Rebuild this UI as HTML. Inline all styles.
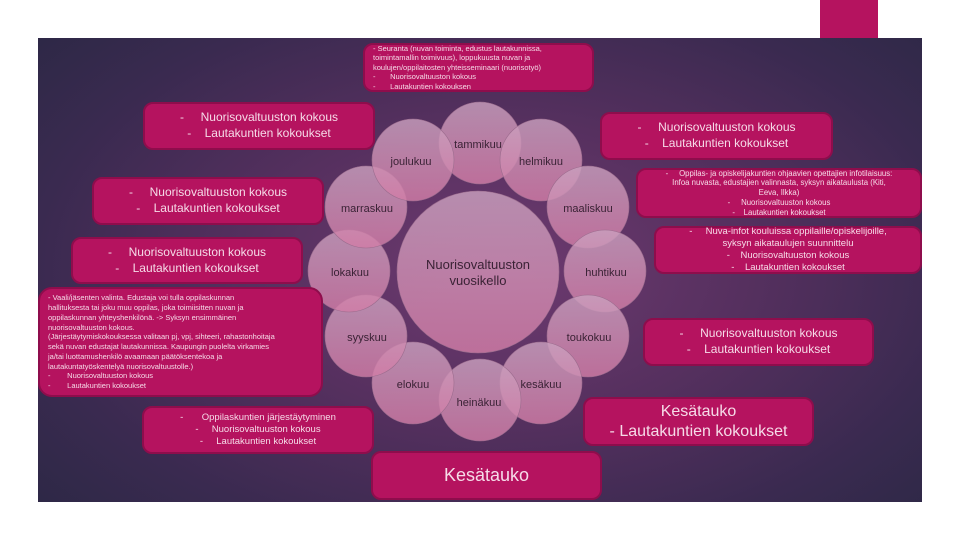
<!DOCTYPE html>
<html><head><meta charset="utf-8"><style>
*{margin:0;padding:0;box-sizing:border-box}
body{width:960px;height:540px;background:#fff;position:relative;overflow:hidden;font-family:"Liberation Sans",sans-serif}
#slide{position:absolute;left:38px;top:38px;width:884px;height:464px;background:radial-gradient(ellipse 70% 80% at 52% 50%,#6e3a70 0%,#56305f 40%,#3a2a50 75%,#2c2845 100%)}
#bar{position:absolute;left:820px;top:0;width:58px;height:38px;background:#b5135f}
.b{position:absolute;background:#b5135f;border:2px solid #8e0d4c;border-radius:10px;color:#f6dbe8;text-align:center;display:flex;flex-direction:column;justify-content:center;line-height:1.3}
.b p{white-space:nowrap}
.l{text-align:left}
svg{position:absolute;left:0;top:0}
</style></head><body>
<div id="slide"></div>
<div id="bar"></div>
<svg width="960" height="540">
<defs><linearGradient id="g" x1="0" y1="0" x2="0" y2="1"><stop offset="0" stop-color="#c9a0be"/><stop offset="1" stop-color="#d17ca6"/></linearGradient></defs>
<g fill="url(#g)" fill-opacity="0.82" stroke="#9c6c8e" stroke-width="0.6">
<circle cx="478" cy="272" r="81"/>
<circle cx="480" cy="143" r="41"/>
<circle cx="541" cy="160" r="41"/>
<circle cx="588" cy="207" r="41"/>
<circle cx="605" cy="271" r="41"/>
<circle cx="588" cy="336" r="41"/>
<circle cx="541" cy="383" r="41"/>
<circle cx="480" cy="400" r="41"/>
<circle cx="413" cy="383" r="41"/>
<circle cx="366" cy="336" r="41"/>
<circle cx="349" cy="271" r="41"/>
<circle cx="366" cy="207" r="41"/>
<circle cx="413" cy="160" r="41"/>
</g>
<g font-family="Liberation Sans,sans-serif" font-size="11" fill="#3a2235" text-anchor="middle">
<text x="478" y="269" font-size="13">Nuorisovaltuuston</text>
<text x="478" y="285" font-size="13">vuosikello</text>
<text x="478" y="148">tammikuu</text>
<text x="541" y="165">helmikuu</text>
<text x="588" y="212">maaliskuu</text>
<text x="606" y="276">huhtikuu</text>
<text x="589" y="341">toukokuu</text>
<text x="541" y="388">kesäkuu</text>
<text x="479" y="406">heinäkuu</text>
<text x="413" y="388">elokuu</text>
<text x="367" y="341">syyskuu</text>
<text x="350" y="276">lokakuu</text>
<text x="367" y="212">marraskuu</text>
<text x="411" y="165">joulukuu</text>
</g>
</svg>
<div class="b l" style="left:363px;top:43px;width:231px;height:49px;font-size:7.5px;padding:0 8px;line-height:1.25">
<p>- Seuranta (nuvan toiminta, edustus lautakunnissa,</p><p>toimintamallin toimivuus), loppukuusta nuvan ja</p><p>koulujen/oppilaitosten yhteisseminaari (nuorisotyö)</p><p>-&nbsp;&nbsp;&nbsp;&nbsp;&nbsp;&nbsp;&nbsp;Nuorisovaltuuston kokous</p><p>-&nbsp;&nbsp;&nbsp;&nbsp;&nbsp;&nbsp;&nbsp;Lautakuntien kokouksen</p></div>
<div class="b" style="left:143px;top:102px;width:232px;height:48px;font-size:12px"><p>-&nbsp;&nbsp;&nbsp;&nbsp;&nbsp;Nuorisovaltuuston kokous</p><p>-&nbsp;&nbsp;&nbsp;&nbsp;Lautakuntien kokoukset</p></div>
<div class="b" style="left:92px;top:177px;width:232px;height:48px;font-size:12px"><p>-&nbsp;&nbsp;&nbsp;&nbsp;&nbsp;Nuorisovaltuuston kokous</p><p>-&nbsp;&nbsp;&nbsp;&nbsp;Lautakuntien kokoukset</p></div>
<div class="b" style="left:71px;top:237px;width:232px;height:47px;font-size:12px"><p>-&nbsp;&nbsp;&nbsp;&nbsp;&nbsp;Nuorisovaltuuston kokous</p><p>-&nbsp;&nbsp;&nbsp;&nbsp;Lautakuntien kokoukset</p></div>
<div class="b l" style="left:38px;top:287px;width:285px;height:110px;font-size:7.5px;padding:0 8px;border-radius:14px;line-height:1.3">
<p>- Vaali/jäsenten valinta. Edustaja voi tulla oppilaskunnan</p><p>hallituksesta tai joku muu oppilas, joka toimiisitten nuvan ja</p><p>oppilaskunnan yhteyshenkilönä. -&gt; Syksyn ensimmäinen</p><p>nuorisovaltuuston kokous.</p><p>(Järjestäytymiskokouksessa valitaan pj, vpj, sihteeri, rahastonhoitaja</p><p>sekä nuvan edustajat lautakunnissa. Kaupungin puolelta virkamies</p><p>ja/tai luottamushenkilö avaamaan päätöksentekoa ja</p><p>lautakuntatyöskentelyä nuorisovaltuustolle.)</p><p>-&nbsp;&nbsp;&nbsp;&nbsp;&nbsp;&nbsp;&nbsp;&nbsp;Nuorisovaltuuston kokous</p><p>-&nbsp;&nbsp;&nbsp;&nbsp;&nbsp;&nbsp;&nbsp;&nbsp;Lautakuntien kokoukset</p></div>
<div class="b" style="left:142px;top:406px;width:232px;height:48px;font-size:9.5px;line-height:1.25"><p>-&nbsp;&nbsp;&nbsp;&nbsp;&nbsp;&nbsp;&nbsp;Oppilaskuntien järjestäytyminen</p><p>-&nbsp;&nbsp;&nbsp;&nbsp;&nbsp;Nuorisovaltuuston kokous</p><p>-&nbsp;&nbsp;&nbsp;&nbsp;&nbsp;Lautakuntien kokoukset</p></div>
<div class="b" style="left:371px;top:451px;width:231px;height:49px;font-size:18px"><p>Kesätauko</p></div>
<div class="b" style="left:583px;top:397px;width:231px;height:49px;font-size:16px;line-height:1.2"><p>Kesätauko</p><p>- Lautakuntien kokoukset</p></div>
<div class="b" style="left:600px;top:112px;width:233px;height:48px;font-size:12px"><p>-&nbsp;&nbsp;&nbsp;&nbsp;&nbsp;Nuorisovaltuuston kokous</p><p>-&nbsp;&nbsp;&nbsp;&nbsp;Lautakuntien kokoukset</p></div>
<div class="b" style="left:636px;top:168px;width:286px;height:50px;font-size:7.8px;line-height:1.25"><p>-&nbsp;&nbsp;&nbsp;&nbsp;&nbsp;Oppilas- ja opiskelijakuntien ohjaavien opettajien infotilaisuus:</p><p>Infoa nuvasta, edustajien valinnasta, syksyn aikataulusta (Kiti,</p><p>Eeva, Ilkka)</p><p>-&nbsp;&nbsp;&nbsp;&nbsp;&nbsp;Nuorisovaltuuston kokous</p><p>-&nbsp;&nbsp;&nbsp;&nbsp;Lautakuntien kokoukset</p></div>
<div class="b" style="left:654px;top:226px;width:268px;height:48px;font-size:9.5px;line-height:1.25"><p>-&nbsp;&nbsp;&nbsp;&nbsp;&nbsp;Nuva-infot kouluissa oppilaille/opiskelijoille,</p><p>syksyn aikataulujen suunnittelu</p><p>-&nbsp;&nbsp;&nbsp;&nbsp;Nuorisovaltuuston kokous</p><p>-&nbsp;&nbsp;&nbsp;&nbsp;Lautakuntien kokoukset</p></div>
<div class="b" style="left:643px;top:318px;width:231px;height:48px;font-size:12px"><p>-&nbsp;&nbsp;&nbsp;&nbsp;&nbsp;Nuorisovaltuuston kokous</p><p>-&nbsp;&nbsp;&nbsp;&nbsp;Lautakuntien kokoukset</p></div>
</body></html>
